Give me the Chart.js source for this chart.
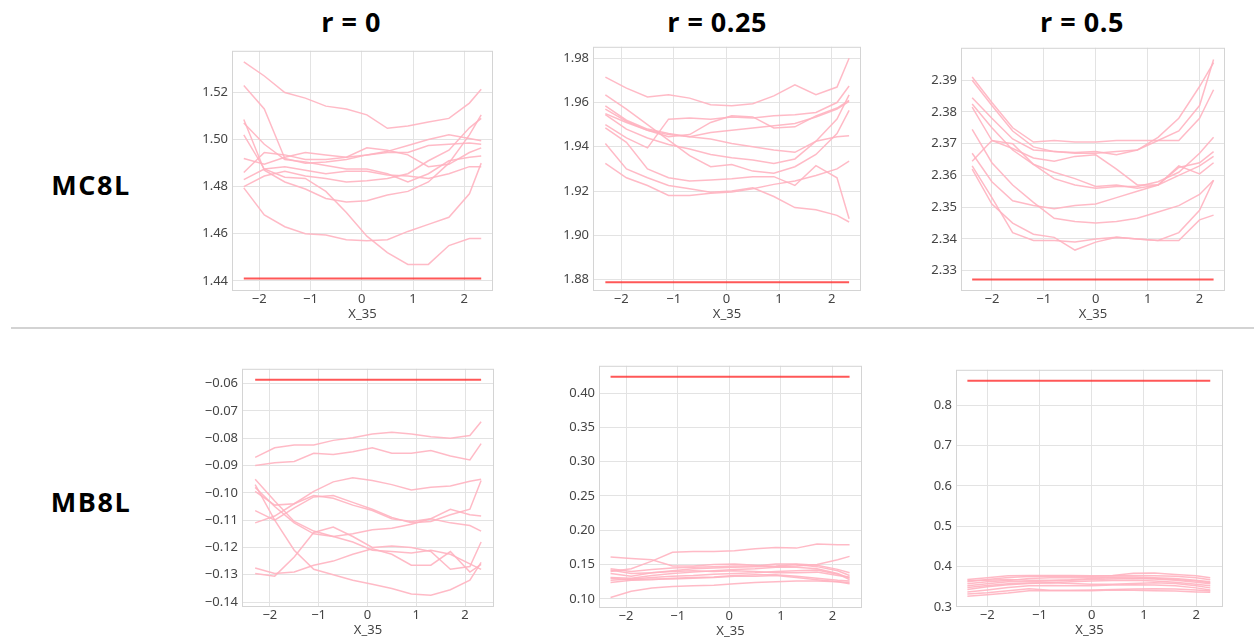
<!DOCTYPE html>
<html>
<head>
<meta charset="utf-8">
<script src="https://cdn.jsdelivr.net/npm/chart.js@4"></script>
<style>
	body { margin: 0; background: #fff; }
	#wrap { position: relative; width: 1254px; height: 641px; overflow: hidden; }
	.lbl { position: absolute; font-family: "Open Sans", sans-serif; font-weight: 700; color: #000; transform: translate(-50%, -50%); white-space: nowrap; }
	.col { font-size: 27px; top: 21px; letter-spacing: 0.5px; }
	.row { font-size: 27px; left: 91px; letter-spacing: 1.5px; }
	#sep { position: absolute; left: 11px; top: 327px; width: 1243px; height: 2px; background: #d3d3d3; }
	canvas { position: absolute; }
</style>
</head>
<body>
<div id="wrap">
	<div class="lbl col" style="left:351px">r = 0</div>
	<div class="lbl col" style="left:717px">r = 0.25</div>
	<div class="lbl col" style="left:1082px">r = 0.5</div>
	<div class="lbl row" style="top:184px">MC8L</div>
	<div class="lbl row" style="top:501px">MB8L</div>
	<div id="sep"></div>
</div>
<script>
(() => {
	'use strict'

	// x grids (X_35)
	const xA = [-2.3, -1.9, -1.5, -1.1, -0.7, -0.3, 0.1, 0.5, 0.9, 1.3, 1.7, 2.1, 2.33];
	const xB = [-2.38, -2.0, -1.6, -1.2, -0.8, -0.4, 0, 0.4, 0.8, 1.2, 1.6, 2.0, 2.27];
	const xTicks = [-2, -1, 0, 1, 2];

	// MC8L, r = 0
	const mc8l_r0 = [
		[1.533, 1.527, 1.520, 1.5176, 1.5142, 1.513, 1.5105, 1.5048, 1.5058, 1.5075, 1.509, 1.5155, 1.5214],
		[1.523, 1.513, 1.492, 1.490, 1.4905, 1.4915, 1.4935, 1.495, 1.4975, 1.500, 1.502, 1.5005, 1.4995],
		[1.502, 1.4875, 1.484, 1.4835, 1.478, 1.469, 1.459, 1.452, 1.447, 1.447, 1.455, 1.458, 1.458],
		[1.5085, 1.487, 1.482, 1.479, 1.475, 1.4735, 1.474, 1.4765, 1.478, 1.482, 1.490, 1.502, 1.5105],
		[1.4795, 1.468, 1.463, 1.460, 1.4595, 1.4575, 1.457, 1.4575, 1.461, 1.464, 1.467, 1.477, 1.490],
		[1.492, 1.4895, 1.4925, 1.4945, 1.4935, 1.4925, 1.4935, 1.4945, 1.4945, 1.4975, 1.498, 1.4985, 1.498],
		[1.486, 1.4945, 1.4935, 1.4915, 1.4915, 1.4925, 1.4965, 1.4955, 1.4935, 1.4885, 1.4895, 1.4945, 1.4965],
		[1.483, 1.4875, 1.4885, 1.487, 1.4855, 1.4865, 1.4865, 1.485, 1.4845, 1.4835, 1.4855, 1.4885, 1.4885],
		[1.480, 1.4845, 1.4865, 1.4845, 1.4835, 1.482, 1.4825, 1.4835, 1.4855, 1.491, 1.4955, 1.505, 1.509],
		[1.507, 1.498, 1.4915, 1.4905, 1.489, 1.4875, 1.4875, 1.4855, 1.482, 1.4855, 1.491, 1.4925, 1.493]
	];
	// MC8L, r = 0.25
	const mc8l_r25 = [
		[1.9715, 1.9665, 1.9625, 1.9635, 1.962, 1.959, 1.9585, 1.9595, 1.963, 1.968, 1.9635, 1.967, 1.980],
		[1.9635, 1.957, 1.950, 1.943, 1.936, 1.931, 1.932, 1.929, 1.928, 1.931, 1.9365, 1.946, 1.9565],
		[1.9585, 1.952, 1.948, 1.946, 1.9445, 1.9435, 1.9415, 1.940, 1.9385, 1.9375, 1.9425, 1.9445, 1.945],
		[1.957, 1.9515, 1.9475, 1.9455, 1.9445, 1.9465, 1.9475, 1.9485, 1.9495, 1.9505, 1.9535, 1.957, 1.9605],
		[1.955, 1.951, 1.9475, 1.9445, 1.9455, 1.951, 1.954, 1.9535, 1.9485, 1.949, 1.954, 1.9575, 1.961],
		[1.950, 1.944, 1.9395, 1.9525, 1.953, 1.9525, 1.9535, 1.953, 1.954, 1.9545, 1.9555, 1.960, 1.9675],
		[1.9485, 1.942, 1.930, 1.926, 1.9245, 1.925, 1.9255, 1.9265, 1.9265, 1.9225, 1.9315, 1.926, 1.9075],
		[1.9415, 1.930, 1.926, 1.9225, 1.921, 1.9195, 1.920, 1.9215, 1.9175, 1.9125, 1.9115, 1.909, 1.906],
		[1.9325, 1.926, 1.9225, 1.918, 1.918, 1.919, 1.9195, 1.921, 1.923, 1.9245, 1.927, 1.930, 1.9335],
		[1.9545, 1.948, 1.944, 1.941, 1.939, 1.9365, 1.935, 1.934, 1.9325, 1.9345, 1.9425, 1.9525, 1.9635]
	];
	// MC8L, r = 0.5
	const mc8l_r50 = [
		[2.391, 2.383, 2.375, 2.3705, 2.371, 2.3705, 2.3705, 2.371, 2.371, 2.371, 2.374, 2.382, 2.3965],
		[2.390, 2.382, 2.374, 2.369, 2.3675, 2.3672, 2.3675, 2.3665, 2.368, 2.372, 2.378, 2.388, 2.3955],
		[2.3845, 2.378, 2.3715, 2.368, 2.3675, 2.367, 2.367, 2.3675, 2.368, 2.371, 2.371, 2.378, 2.387],
		[2.3825, 2.375, 2.368, 2.3635, 2.359, 2.357, 2.356, 2.3565, 2.3565, 2.358, 2.361, 2.367, 2.372],
		[2.3815, 2.371, 2.3685, 2.3655, 2.3645, 2.366, 2.3665, 2.362, 2.357, 2.357, 2.3625, 2.364, 2.3675],
		[2.3645, 2.371, 2.370, 2.3635, 2.361, 2.359, 2.3565, 2.357, 2.356, 2.357, 2.363, 2.3605, 2.364],
		[2.367, 2.358, 2.352, 2.3505, 2.3495, 2.3505, 2.351, 2.353, 2.355, 2.357, 2.360, 2.363, 2.366],
		[2.3745, 2.364, 2.357, 2.3515, 2.3465, 2.3455, 2.345, 2.3455, 2.3465, 2.3485, 2.3505, 2.354, 2.3585],
		[2.363, 2.353, 2.342, 2.3395, 2.3395, 2.339, 2.340, 2.3405, 2.340, 2.3395, 2.3395, 2.346, 2.3475],
		[2.362, 2.351, 2.345, 2.3415, 2.3405, 2.3365, 2.339, 2.3405, 2.340, 2.3395, 2.342, 2.349, 2.3585]
	];
	// MB8L, r = 0
	const mb8l_r0 = [
		[-0.0870, -0.0835, -0.0825, -0.0825, -0.0808, -0.0798, -0.0785, -0.0778, -0.0785, -0.0795, -0.0800, -0.0790, -0.0740],
		[-0.0900, -0.0890, -0.0885, -0.0855, -0.0860, -0.0850, -0.0835, -0.0855, -0.0855, -0.0845, -0.0865, -0.0880, -0.0820],
		[-0.1110, -0.1085, -0.1040, -0.0995, -0.0960, -0.0945, -0.0955, -0.0970, -0.0990, -0.0980, -0.0975, -0.0958, -0.0950],
		[-0.0950, -0.1030, -0.1105, -0.1140, -0.1160, -0.1180, -0.1210, -0.1215, -0.1220, -0.1210, -0.1225, -0.1260, -0.1280],
		[-0.0970, -0.1100, -0.1210, -0.1280, -0.1300, -0.1320, -0.1335, -0.1350, -0.1370, -0.1375, -0.1355, -0.1320, -0.1255],
		[-0.0980, -0.1050, -0.1110, -0.1150, -0.1160, -0.1150, -0.1135, -0.1130, -0.1115, -0.1095, -0.1110, -0.1120, -0.1140],
		[-0.1295, -0.1305, -0.1235, -0.1145, -0.1125, -0.1160, -0.1200, -0.1195, -0.1200, -0.1215, -0.1280, -0.1270, -0.1180],
		[-0.1275, -0.1295, -0.1290, -0.1265, -0.1250, -0.1225, -0.1205, -0.1225, -0.1265, -0.1265, -0.1215, -0.1290, -0.1262],
		[-0.1065, -0.1100, -0.1055, -0.1015, -0.1010, -0.1035, -0.1060, -0.1090, -0.1110, -0.1105, -0.1080, -0.1060, -0.0955],
		[-0.0995, -0.1045, -0.1040, -0.1010, -0.1020, -0.1045, -0.1065, -0.1095, -0.1105, -0.1095, -0.1060, -0.1080, -0.1085]
	];
	// MB8L, r = 0.25
	const mb8l_r25 = [
		[0.140, 0.144, 0.155, 0.168, 0.169, 0.169, 0.170, 0.173, 0.175, 0.174, 0.180, 0.179, 0.179],
		[0.161, 0.159, 0.157, 0.148, 0.148, 0.150, 0.151, 0.149, 0.147, 0.148, 0.150, 0.157, 0.162],
		[0.102, 0.111, 0.116, 0.118, 0.119, 0.120, 0.122, 0.124, 0.125, 0.126, 0.126, 0.125, 0.124],
		[0.144, 0.140, 0.143, 0.145, 0.146, 0.147, 0.148, 0.148, 0.151, 0.151, 0.149, 0.143, 0.138],
		[0.137, 0.133, 0.138, 0.141, 0.144, 0.145, 0.146, 0.147, 0.148, 0.150, 0.147, 0.141, 0.134],
		[0.131, 0.130, 0.134, 0.137, 0.139, 0.141, 0.143, 0.144, 0.146, 0.146, 0.144, 0.137, 0.130],
		[0.127, 0.129, 0.131, 0.133, 0.134, 0.136, 0.137, 0.138, 0.140, 0.141, 0.142, 0.136, 0.128],
		[0.124, 0.127, 0.128, 0.130, 0.131, 0.132, 0.134, 0.135, 0.135, 0.133, 0.130, 0.127, 0.126],
		[0.130, 0.128, 0.129, 0.129, 0.130, 0.131, 0.133, 0.133, 0.134, 0.131, 0.128, 0.125, 0.122],
		[0.142, 0.137, 0.138, 0.140, 0.141, 0.140, 0.141, 0.140, 0.138, 0.138, 0.139, 0.134, 0.132]
	];
	// MB8L, r = 0.5
	const mb8l_r50 = [
		[0.368, 0.372, 0.377, 0.378, 0.378, 0.378, 0.377, 0.378, 0.383, 0.384, 0.380, 0.377, 0.372],
		[0.362, 0.368, 0.373, 0.375, 0.376, 0.376, 0.376, 0.377, 0.378, 0.377, 0.376, 0.372, 0.367],
		[0.357, 0.362, 0.365, 0.370, 0.372, 0.372, 0.373, 0.374, 0.374, 0.372, 0.370, 0.366, 0.362],
		[0.352, 0.357, 0.362, 0.363, 0.364, 0.366, 0.368, 0.369, 0.370, 0.369, 0.366, 0.361, 0.357],
		[0.348, 0.353, 0.357, 0.359, 0.360, 0.362, 0.364, 0.365, 0.366, 0.364, 0.361, 0.356, 0.352],
		[0.343, 0.350, 0.355, 0.358, 0.360, 0.358, 0.356, 0.356, 0.358, 0.360, 0.358, 0.352, 0.347],
		[0.337, 0.342, 0.348, 0.352, 0.353, 0.352, 0.352, 0.354, 0.355, 0.354, 0.352, 0.347, 0.342],
		[0.332, 0.335, 0.340, 0.345, 0.341, 0.341, 0.342, 0.343, 0.344, 0.345, 0.344, 0.342, 0.339],
		[0.326, 0.330, 0.334, 0.340, 0.340, 0.340, 0.340, 0.342, 0.341, 0.340, 0.339, 0.337, 0.336],
		[0.365, 0.366, 0.368, 0.366, 0.366, 0.367, 0.370, 0.372, 0.371, 0.370, 0.368, 0.364, 0.360]
	];

	// reference (red) levels
	const refLevels = [1.441, 1.8788, 2.3272, -0.0586, 0.424, 0.8615];

	// y tick labels
	const yTicksMC0 = [1.44, 1.46, 1.48, 1.50, 1.52];
	const yTicksMC25 = [1.88, 1.90, 1.92, 1.94, 1.96, 1.98];
	const yTicksMC50 = [2.33, 2.34, 2.35, 2.36, 2.37, 2.38, 2.39];
	const yTicksMB0 = [-0.14, -0.13, -0.12, -0.11, -0.10, -0.09, -0.08, -0.07, -0.06];
	const yTicksMB25 = [0.10, 0.15, 0.20, 0.25, 0.30, 0.35, 0.40];
	const yTicksMB50 = [0.3, 0.4, 0.5, 0.6, 0.7, 0.8];

	const panels = [
		{ xs: xA, lines: mc8l_r0, ref: refLevels[0], ticks: yTicksMC0, dec: 2, y: [1.4357, 1.5377], x: [-2.53, 2.56], box: [232, 47, 493, 291] },
		{ xs: xA, lines: mc8l_r25, ref: refLevels[1], ticks: yTicksMC25, dec: 2, y: [1.8748, 1.9852], x: [-2.535, 2.556], box: [593, 43, 861, 291] },
		{ xs: xB, lines: mc8l_r50, ref: refLevels[2], ticks: yTicksMC50, dec: 2, y: [2.3236, 2.4002], x: [-2.595, 2.49], box: [961, 44, 1225, 291] },
		{ xs: xA, lines: mb8l_r0, ref: refLevels[3], ticks: yTicksMB0, dec: 2, y: [-0.1418, -0.0546], x: [-2.57, 2.594], box: [242, 365, 494, 607] },
		{ xs: xA, lines: mb8l_r25, ref: refLevels[4], ticks: yTicksMB25, dec: 2, y: [0.0867, 0.4398], x: [-2.524, 2.571], box: [599, 362, 862, 608] },
		{ xs: xB, lines: mb8l_r50, ref: refLevels[5], ticks: yTicksMB50, dec: 1, y: [0.2995, 0.8885], x: [-2.598, 2.514], box: [956, 366, 1223, 607] }
	];

	const YW = 60, XH = 32, PAD = 8;
	const tickFont = { family: 'Noto Sans', size: 13 };
	const minus = (s) => s.replace('-', '\u2212');

	// full box round the plot area
	const framePlugin = {
		id: 'frame',
		beforeDatasetsDraw(chart) {
			const { ctx, chartArea: a } = chart;
			ctx.save();
			ctx.strokeStyle = '#d4d4d4';
			ctx.lineWidth = 1;
			ctx.strokeRect(a.left + 0.5, a.top + 0.5, a.width - 1, a.height - 1);
			ctx.restore();
		}
	};

	const wrap = document.getElementById('wrap');

	panels.forEach((p) => {
		const [l, t, r, b] = p.box;
		const canvas = document.createElement('canvas');
		const w = (r - l) + YW + PAD;
		const h = (b - t) + PAD + XH;
		canvas.width = w;
		canvas.height = h;
		canvas.style.left = (l - YW) + 'px';
		canvas.style.top = (t - PAD) + 'px';
		canvas.style.width = w + 'px';
		canvas.style.height = h + 'px';
		wrap.appendChild(canvas);

		const datasets = p.lines.map((ys) => ({
			data: p.xs.map((x, i) => ({ x: x, y: ys[i] })),
			borderColor: 'rgba(255, 178, 192, 0.9)',
			borderWidth: 1.5,
			pointRadius: 0,
			tension: 0
		}));
		datasets.push({
			data: [{ x: p.xs[0], y: p.ref }, { x: p.xs[p.xs.length - 1], y: p.ref }],
			borderColor: 'rgba(255, 45, 45, 0.8)',
			borderWidth: 2,
			pointRadius: 0
		});

		new Chart(canvas, {
			type: 'line',
			data: { datasets: datasets },
			plugins: [framePlugin],
			options: {
				responsive: false,
				animation: false,
				events: [],
				layout: { padding: { top: PAD, right: PAD, left: 0, bottom: 0 } },
				plugins: { legend: { display: false }, tooltip: { enabled: false } },
				scales: {
					x: {
						type: 'linear',
						min: p.x[0],
						max: p.x[1],
						afterFit: (s) => { s.height = XH; },
						afterBuildTicks: (s) => { s.ticks = xTicks.map((v) => ({ value: v })); },
						grid: { color: '#e3e3e3', drawTicks: false },
						border: { display: false },
						ticks: {
							padding: 0,
							color: '#444',
							font: tickFont,
							callback: (v) => minus(String(v))
						},
						title: {
							display: true,
							text: 'X_35',
							color: '#444',
							font: tickFont,
							padding: { top: 0, bottom: 1 }
						}
					},
					y: {
						type: 'linear',
						min: p.y[0],
						max: p.y[1],
						afterFit: (s) => { s.width = YW; },
						afterBuildTicks: (s) => { s.ticks = p.ticks.map((v) => ({ value: v })); },
						grid: { color: '#e3e3e3', drawTicks: false },
						border: { display: false },
						ticks: {
							padding: 4,
							color: '#444',
							font: tickFont,
							callback: (v) => minus(Number(v).toFixed(p.dec))
						}
					}
				}
			}
		});
	});
})();
</script>
</body>
</html>
